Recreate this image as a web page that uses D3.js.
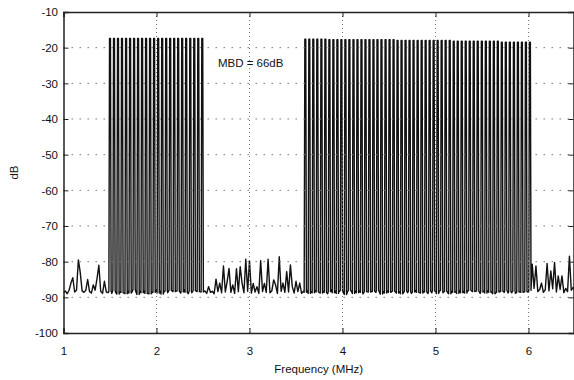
<!DOCTYPE html>
<html>
<head>
<meta charset="utf-8">
<script src="https://cdn.jsdelivr.net/npm/d3@7"></script>
<style>
  body { margin: 0; background: #fff; }
  svg { display: block; font-family: "Liberation Sans", Arial, Helvetica, sans-serif; }
</style>
</head>
<body>
<div id="graph"></div>
<script>
// axis ticks
const xTicks = [1, 2, 3, 4, 5, 6];
const yTicks = [-10, -20, -30, -40, -50, -60, -70, -80, -90, -100];

// tone frequencies (MHz) and their levels (dB)
const band1Freqs = [1.500, 1.543, 1.586, 1.629, 1.673, 1.716, 1.759, 1.802, 1.845, 1.888, 1.931, 1.974,
  2.018, 2.061, 2.104, 2.147, 2.190, 2.233, 2.276, 2.319, 2.363, 2.406, 2.449, 2.492];
const band1Levels = [-17.45, -17.45, -17.45, -17.45, -17.45, -17.45, -17.45, -17.45, -17.45, -17.45, -17.45, -17.45,
  -17.45, -17.45, -17.45, -17.45, -17.45, -17.45, -17.45, -17.45, -17.45, -17.45, -17.45, -17.45];

const band2Freqs = [3.600, 3.643, 3.686, 3.729, 3.773, 3.816, 3.859, 3.902, 3.945, 3.988,
  4.031, 4.074, 4.118, 4.161, 4.204, 4.247, 4.290, 4.333, 4.376, 4.419,
  4.463, 4.506, 4.549, 4.592, 4.635, 4.678, 4.721, 4.764, 4.808, 4.851,
  4.894, 4.937, 4.980, 5.023, 5.066, 5.109, 5.153, 5.196, 5.239, 5.282,
  5.325, 5.368, 5.411, 5.454, 5.498, 5.541, 5.584, 5.627, 5.670, 5.713,
  5.756, 5.799, 5.843, 5.886, 5.929, 5.972, 6.015];
const band2Levels = [-17.6, -17.6, -17.6, -17.6, -17.6, -17.6, -17.8, -17.8, -17.8, -17.8,
  -17.8, -17.8, -17.8, -17.8, -17.8, -17.8, -17.8, -17.8, -17.8, -17.8,
  -17.8, -17.8, -17.8, -18.0, -18.0, -18.0, -18.0, -18.0, -18.0, -18.0,
  -18.0, -18.0, -18.0, -18.0, -18.0, -18.0, -18.0, -18.2, -18.2, -18.2,
  -18.2, -18.2, -18.2, -18.2, -18.2, -18.2, -18.2, -18.2, -18.2, -18.45,
  -18.45, -18.45, -18.45, -18.45, -18.45, -18.45, -18.45];

// noise floor, sampled every 0.02 MHz from 1.00 to 6.50
const floorStart = 1.0;
const floorStep = 0.02;
const floorDb = [
  // 1.00 - 1.48
  -88.8, -88.2, -89.0, -88.0, -86.0, -84.5, -88.5, -88.0, -79.5, -83.0,
  -88.2, -88.6, -88.0, -85.0, -88.4, -88.8, -86.5, -88.0, -84.8, -81.0,
  -88.3, -88.9, -85.5, -88.5, -88.7,
  // 1.50 - 2.50
  -88.3, -88.9, -88.0, -88.6, -89.1, -88.4, -88.7, -87.9, -88.5, -89.0,
  -88.2, -88.8, -88.4, -87.8, -88.6, -89.2, -88.3, -88.7, -88.1, -88.9,
  -88.5, -88.0, -89.0, -88.4, -88.6, -87.9, -88.8, -88.3, -89.1, -88.5,
  -88.2, -88.7, -88.0, -88.9, -88.4, -88.6, -89.3, -88.2, -88.8, -88.5,
  -87.9, -88.6, -89.0, -88.3, -88.7, -88.1, -88.9, -88.4, -88.6, -88.0,
  -88.5,
  // 2.52 - 3.58
  -88.2, -88.9, -87.0, -88.6, -88.3, -89.0, -84.9, -88.4, -86.0, -88.7,
  -81.2, -88.5, -85.5, -81.9, -88.6, -86.5, -88.9, -82.0, -88.4, -81.4,
  -86.0, -88.7, -79.3, -88.3, -79.7, -88.8, -86.1, -88.5, -87.0, -88.9,
  -79.7, -88.4, -86.1, -88.6, -79.3, -88.7, -88.2, -85.1, -86.5, -88.9,
  -78.6, -88.3, -86.0, -88.6, -82.8, -88.5, -80.9, -87.0, -88.8, -85.5,
  -88.4, -86.0, -88.9, -88.3,
  // 3.60 - 6.00
  -88.6, -88.1, -88.9, -88.4, -88.7, -88.0, -88.5, -89.1, -88.3, -88.8,
  -88.2, -88.6, -89.0, -88.4, -87.9, -88.7, -88.3, -88.9, -88.5, -88.1,
  -88.8, -88.4, -89.2, -88.6, -88.0, -88.5, -88.9, -88.3, -88.7, -88.2,
  -88.6, -89.0, -88.4, -88.8, -88.1, -88.5, -88.9, -88.3, -88.6, -88.0,
  -88.7, -89.1, -88.4, -88.8, -88.2, -88.6, -88.9, -88.3, -88.5, -88.1,
  -88.8, -88.4, -89.0, -88.6, -88.2, -88.7, -88.3, -88.9, -88.5, -88.0,
  -88.6, -89.1, -88.4, -88.8, -88.2, -88.5, -88.9, -88.3, -88.7, -88.1,
  -88.6, -88.9, -88.4, -88.0, -88.7, -88.3, -88.8, -88.5, -89.0, -88.2,
  -88.6, -88.4, -88.9, -88.1, -88.7, -88.3, -88.8, -88.5, -88.0, -88.6,
  -89.1, -88.4, -88.7, -88.2, -88.9, -88.5, -88.3, -88.8, -88.1, -88.6,
  -88.4, -89.0, -88.7, -88.2, -88.5, -88.9, -88.3, -88.6, -88.0, -88.8,
  -88.4, -88.7, -88.2, -88.9, -88.5, -88.3, -88.6, -88.1, -88.8, -88.4,
  -88.6,
  // 6.02 - 6.50
  -88.0, -80.7, -87.5, -81.2, -88.4, -87.8, -86.0, -88.6, -87.9, -80.5,
  -88.2, -82.6, -87.6, -80.2, -88.5, -84.0, -87.8, -84.0, -88.7, -87.5,
  -88.4, -78.5, -88.0, -87.2, -88.6
];

const noteText = "MBD = 66dB";
const noteFreq = 2.66;
const noteDb = -25.4;

const width = 574, height = 380;
const margin = {top: 12, right: 0, bottom: 47, left: 63.5};

const svg = d3.select("#graph")
  .append("svg")
  .attr("width", width)
  .attr("height", height);

const x = d3.scaleLinear()
  .domain([1, 6.5])
  .range([margin.left, 575]);

const y = d3.scaleLinear()
  .domain([-100, -10])
  .range([height - margin.bottom, margin.top]);

// build the trace: floor samples plus narrow flat-topped spikes for every tone
const toneFreqs = band1Freqs.concat(band2Freqs);
const toneLevels = band1Levels.concat(band2Levels);
const halfTop = 0.005, halfBase = 0.012;

const points = [];
floorDb.forEach((v, i) => {
  const f = floorStart + i * floorStep;
  const nearTone = toneFreqs.some(t => Math.abs(t - f) < halfBase + 0.002);
  if (!nearTone) points.push([f, v]);
});
toneFreqs.forEach((f, i) => {
  const base = floorDb[Math.round((f - floorStart) / floorStep)];
  points.push([f - halfBase, base]);
  points.push([f - halfTop, toneLevels[i]]);
  points.push([f + halfTop, toneLevels[i]]);
  points.push([f + halfBase, base]);
});
points.sort((a, b) => a[0] - b[0]);

svg.append("clipPath")
  .attr("id", "plot-clip")
  .append("rect")
  .attr("x", x(1))
  .attr("y", y(-10))
  .attr("width", x(6.5) - x(1))
  .attr("height", y(-100) - y(-10));

const line = d3.line()
  .x(d => x(d[0]))
  .y(d => y(d[1]));

svg.append("path")
  .datum(points)
  .attr("clip-path", "url(#plot-clip)")
  .attr("fill", "none")
  .attr("stroke", "#111")
  .attr("stroke-width", 1.4)
  .attr("stroke-linejoin", "round")
  .attr("d", line);

// dotted grid on top of the trace
svg.append("g")
  .selectAll("line")
  .data(xTicks.filter(t => t > 1))
  .join("line")
  .attr("x1", d => x(d)).attr("x2", d => x(d))
  .attr("y1", y(-10)).attr("y2", y(-100))
  .attr("stroke", "#777")
  .attr("stroke-width", 1)
  .attr("stroke-dasharray", "1,3");

svg.append("g")
  .selectAll("line")
  .data(yTicks.filter(t => t > -100 && t < -10))
  .join("line")
  .attr("x1", x(1)).attr("x2", x(6.5))
  .attr("y1", d => y(d)).attr("y2", d => y(d))
  .attr("stroke", "#777")
  .attr("stroke-width", 1)
  .attr("stroke-dasharray", "1.5,6.5");

// axes, ticks pointing inward; plain hyphen for negatives
const fontSize = "11.5px";
const fmt = d => String(d);

const gx = svg.append("g")
  .attr("transform", `translate(0,${y(-100)})`)
  .call(d3.axisBottom(x).tickValues(xTicks).tickSize(-5).tickPadding(13.5).tickFormat(fmt));

const gy = svg.append("g")
  .attr("transform", `translate(${x(1)},0)`)
  .call(d3.axisLeft(y).tickValues(yTicks).tickSize(-5).tickPadding(5.5).tickFormat(fmt));

const gTop = svg.append("g")
  .attr("transform", `translate(0,${y(-10)})`)
  .call(d3.axisTop(x).tickValues(xTicks).tickSize(-5).tickFormat(""));

const gRight = svg.append("g")
  .attr("transform", `translate(573.5,0)`)
  .call(d3.axisRight(y).tickValues(yTicks).tickSize(-5).tickFormat(""));

[gx, gy, gTop, gRight].forEach(g => {
  g.select(".domain").attr("stroke", "#222").attr("stroke-width", 1.5);
  g.selectAll(".tick line").attr("stroke", "#222");
  g.selectAll("text")
    .attr("fill", "#111")
    .style("font-size", fontSize)
    .style("font-family", "'Liberation Sans', Arial, Helvetica, sans-serif");
});

// labels
svg.append("text")
  .attr("x", (x(1) + 574) / 2)
  .attr("y", 373)
  .attr("text-anchor", "middle")
  .attr("fill", "#111")
  .style("font-size", fontSize)
  .text("Frequency (MHz)");

svg.append("text")
  .attr("transform", `translate(18,${(y(-10) + y(-100)) / 2}) rotate(-90)`)
  .attr("text-anchor", "middle")
  .attr("fill", "#111")
  .style("font-size", fontSize)
  .text("dB");

svg.append("text")
  .attr("x", x(noteFreq))
  .attr("y", y(noteDb))
  .attr("fill", "#111")
  .style("font-size", fontSize)
  .text(noteText);
</script>
</body>
</html>
